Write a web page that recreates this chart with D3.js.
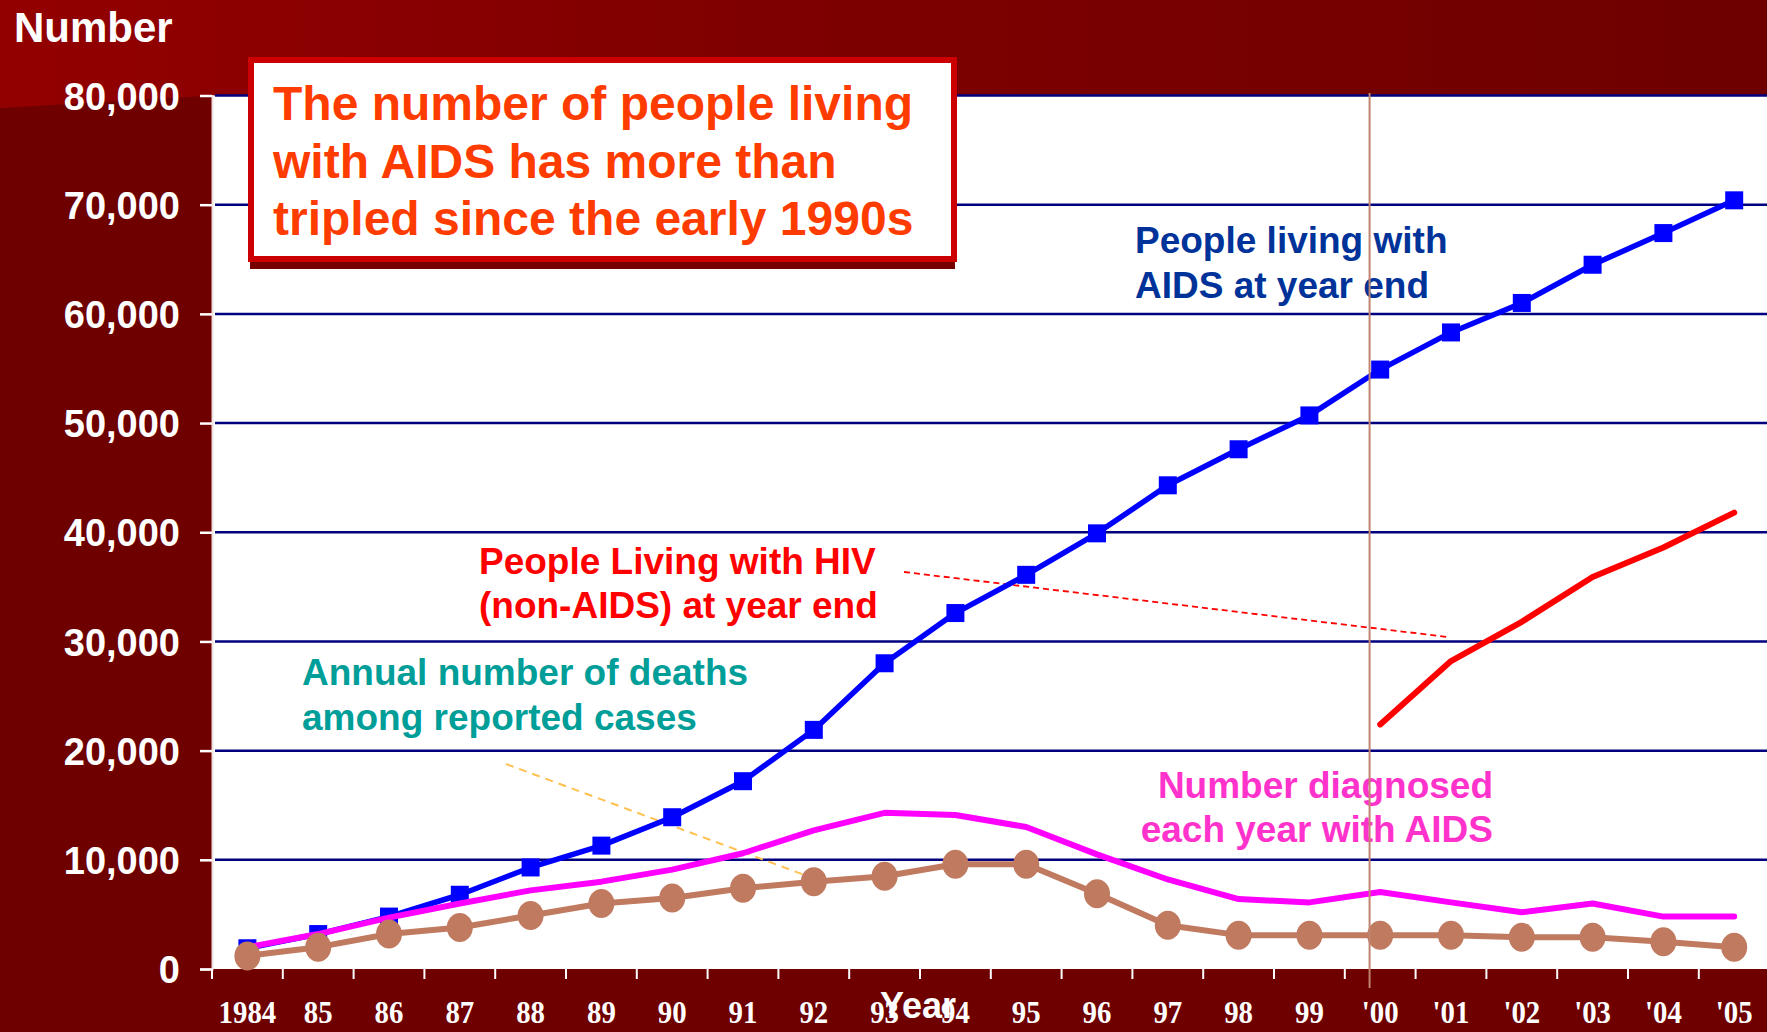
<!DOCTYPE html>
<html>
<head>
<meta charset="utf-8">
<script src="https://cdn.jsdelivr.net/npm/d3@7"></script>
<style>
  html, body { margin: 0; padding: 0; background: #6e0000; overflow: hidden; }
  svg { display: block; }
</style>
</head>
<body>
<svg id="chart" width="1767" height="1032"></svg>
<script>
// ---------------- DATA ----------------
const years = ["1984","85","86","87","88","89","90","91","92","93","94","95","96","97","98","99","'00","'01","'02","'03","'04","'05"];
const livingWithAIDS = [1900, 3200, 4800, 6800, 9300, 11300, 13900, 17200, 21900, 28000, 32600, 36100, 39900, 44300, 47600, 50700, 54900, 58300, 61000, 64500, 67400, 70400];
const diagnosedAIDS = [2000, 3200, 4700, 6000, 7200, 8000, 9100, 10600, 12700, 14300, 14100, 13000, 10500, 8200, 6400, 6100, 7050, 6100, 5200, 6000, 4800, 4800];
const annualDeaths = [1200, 2000, 3200, 3800, 4900, 6000, 6500, 7400, 8000, 8500, 9600, 9600, 6900, 4000, 3100, 3100, 3100, 3100, 2900, 2900, 2500, 2000];
const hivYears = ["'00","'01","'02","'03","'04","'05"];
const hivNonAIDS = [22400, 28200, 31800, 35900, 38600, 41800];
const yTicks = [0, 10000, 20000, 30000, 40000, 50000, 60000, 70000, 80000];
const yTickLabels = ["0", "10,000", "20,000", "30,000", "40,000", "50,000", "60,000", "70,000", "80,000"];
const boxLines = ["The number of people living", "with AIDS has more than", "tripled since the early 1990s"];
const labelAIDS = ["People living with", "AIDS at year end"];
const labelHIV = ["People Living with HIV", "(non-AIDS) at year end"];
const labelDeaths = ["Annual number of deaths", "among reported cases"];
const labelDiag = ["Number diagnosed", "each year with AIDS"];

(function () {
// ---------------- LAYOUT ----------------
const W = 1767, H = 1032;
const pL = 212, pT = 95.5, pB = 969, pR = 1769.6;
const sans = "'Liberation Sans', Arial, Helvetica, sans-serif";
const serif = "'Liberation Serif', 'Times New Roman', serif";

const svg = d3.select("#chart");
const x = d3.scaleBand().domain(years).range([pL, pR]).padding(0);
const xc = d => x(d) + x.bandwidth() / 2;
const y = d3.scaleLinear().domain([0, 80000]).range([pB, pT]);

// background
const defs = svg.append("defs");
const grad = defs.append("linearGradient").attr("id", "topband").attr("x1", "0").attr("x2", "1").attr("y1", "0").attr("y2", "0");
grad.append("stop").attr("offset", "0").attr("stop-color", "#930000");
grad.append("stop").attr("offset", "0.45").attr("stop-color", "#7e0000");
grad.append("stop").attr("offset", "1").attr("stop-color", "#6e0000");
svg.append("rect").attr("width", W).attr("height", H).attr("fill", "#6e0000");
svg.append("path").attr("d", `M0,0 H${W} V${pT} H${pL} L0,108 Z`).attr("fill", "url(#topband)");

// plot area
svg.append("rect").attr("x", pL).attr("y", pT).attr("width", W - pL).attr("height", pB - pT).attr("fill", "#ffffff");

// gridlines
svg.append("g").selectAll("line").data(yTicks.filter(d => d > 0)).join("line")
  .attr("x1", pL + 3).attr("x2", W)
  .attr("y1", d => y(d)).attr("y2", d => y(d))
  .attr("stroke", "#00007f").attr("stroke-width", 2.5);

// y axis
const yAxis = d3.axisLeft(y).tickValues(yTicks).tickSize(12).tickFormat((d, i) => yTickLabels[i]);
const gy = svg.append("g").attr("transform", `translate(${pL},0)`).call(yAxis);
gy.select(".domain").attr("stroke", "#f0e0e0").attr("stroke-width", 2);
gy.selectAll(".tick line").attr("stroke", "#ffffff").attr("stroke-width", 2.5);
gy.selectAll(".tick text").attr("x", -32).attr("dy", "0.36em")
  .attr("fill", "#ffffff").attr("font-family", sans).attr("font-weight", "bold").attr("font-size", 38);

// x axis
const xAxis = d3.axisBottom(x).tickSize(0).tickPadding(0);
const gx = svg.append("g").attr("transform", `translate(0,${pB})`).call(xAxis);
gx.select(".domain").remove();
gx.selectAll(".tick text")
  .attr("font-family", serif).attr("font-weight", "bold").attr("font-size", 32).attr("fill", "#ffffff")
  .attr("y", 0).attr("dy", 0)
  .attr("transform", "translate(0,54) scale(0.9,1)");
// x ticks at band boundaries
svg.append("g").selectAll("line").data(years).join("line")
  .attr("x1", d => x(d)).attr("x2", d => x(d))
  .attr("y1", pB).attr("y2", pB + 10)
  .attr("stroke", "#ffffff").attr("stroke-width", 2);

// axis titles
svg.append("text").attr("x", 14).attr("y", 42).text("Number")
  .attr("fill", "#fff").attr("font-family", sans).attr("font-weight", "bold").attr("font-size", 42);

// dashed leader lines
svg.append("line").attr("x1", 904).attr("y1", 572).attr("x2", 1448).attr("y2", 637)
  .attr("stroke", "#ff0000").attr("stroke-width", 1.8).attr("stroke-dasharray", "6,4");
svg.append("line").attr("x1", 506).attr("y1", 764).attr("x2", 810).attr("y2", 877)
  .attr("stroke", "#ffc050").attr("stroke-width", 2).attr("stroke-dasharray", "8,6");

// series lines
const line = d3.line().x(d => xc(d[0])).y(d => y(d[1]));
const zip = (a, b) => a.map((d, i) => [d, b[i]]);

svg.append("path").datum(zip(years, livingWithAIDS)).attr("d", line)
  .attr("fill", "none").attr("stroke", "#0000ff").attr("stroke-width", 5.5).attr("stroke-linejoin", "round");
svg.append("g").selectAll("rect").data(zip(years, livingWithAIDS)).join("rect")
  .attr("x", d => xc(d[0]) - 9).attr("y", d => y(d[1]) - 9)
  .attr("width", 18).attr("height", 18).attr("fill", "#0000ff");

svg.append("path").datum(zip(years, diagnosedAIDS)).attr("d", line)
  .attr("fill", "none").attr("stroke", "#ff00ff").attr("stroke-width", 6).attr("stroke-linejoin", "round").attr("stroke-linecap", "round");

svg.append("path").datum(zip(hivYears, hivNonAIDS)).attr("d", line)
  .attr("fill", "none").attr("stroke", "#ff0000").attr("stroke-width", 6).attr("stroke-linejoin", "round").attr("stroke-linecap", "round");

svg.append("path").datum(zip(years, annualDeaths)).attr("d", line)
  .attr("fill", "none").attr("stroke", "#c07a60").attr("stroke-width", 6).attr("stroke-linejoin", "round");
svg.append("g").selectAll("ellipse").data(zip(years, annualDeaths)).join("ellipse")
  .attr("cx", d => xc(d[0])).attr("cy", d => y(d[1]))
  .attr("rx", 13).attr("ry", 14.5).attr("fill", "#c07a60");

// annotation box
svg.append("rect").attr("x", 250).attr("y", 63).attr("width", 705).attr("height", 206).attr("fill", "#760000");
svg.append("rect").attr("x", 251).attr("y", 60).attr("width", 703).attr("height", 199)
  .attr("fill", "#ffffff").attr("stroke", "#cc0000").attr("stroke-width", 6);
svg.append("g").selectAll("text").data(boxLines).join("text")
  .attr("x", 273).attr("y", (d, i) => 120 + i * 57.5).text(d => d)
  .attr("fill", "#ff3c00").attr("font-family", sans).attr("font-weight", "bold").attr("font-size", 48);

// series labels
function label(lines, xPos, y0, dy, color, anchor) {
  svg.append("g").selectAll("text").data(lines).join("text")
    .attr("x", xPos).attr("y", (d, i) => y0 + i * dy).text(d => d)
    .attr("text-anchor", anchor)
    .attr("fill", color).attr("font-family", sans).attr("font-weight", "bold").attr("font-size", 37);
}
label(labelAIDS, 1135, 253, 45, "#003399", "start");
label(labelHIV, 479, 574, 44, "#ff0000", "start");
label(labelDeaths, 302, 685, 45, "#009e99", "start");
label(labelDiag, 1493, 798, 44, "#ff33cc", "end");

// vertical marker at 2000
const vx = x("'00") + x.bandwidth() * 0.35;
svg.append("line").attr("x1", vx).attr("x2", vx).attr("y1", 93).attr("y2", 988)
  .attr("stroke", "#c08570").attr("stroke-width", 2);

// "Year" title drawn over tick labels
svg.append("text").attr("x", 918).attr("y", 1018).attr("text-anchor", "middle").text("Year")
  .attr("fill", "#fff").attr("font-family", sans).attr("font-weight", "bold").attr("font-size", 36);
})();
</script>
</body>
</html>
